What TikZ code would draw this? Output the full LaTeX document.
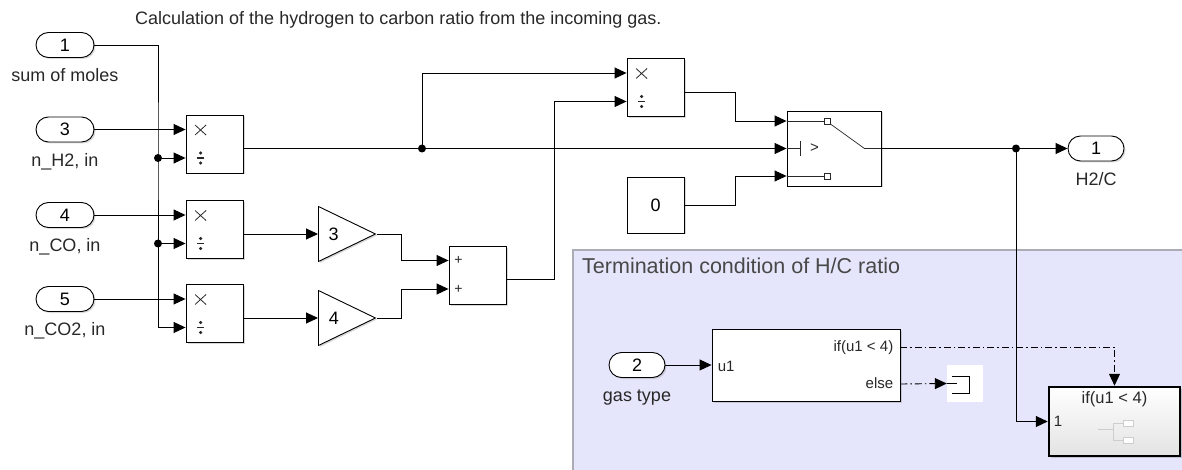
\documentclass[tikz,border=0pt]{standalone}
\usepackage{fontspec}
\setmainfont{Liberation Sans}
\usetikzlibrary{positioning, arrows.meta, calc, shapes.geometric, shadows}
\definecolor{areafill}{RGB}{229,229,251}
\definecolor{areaedge}{RGB}{172,172,182}
\definecolor{txtgray}{RGB}{40,40,40}
\definecolor{icongray}{RGB}{205,205,208}

\begin{document}
\begin{tikzpicture}[x=1pt, y=-1pt,
  blk/.style={draw, line width=0.9pt, fill=white, inner sep=0pt,
    minimum width=57pt, minimum height=58pt,
    drop shadow={shadow xshift=1.5pt, shadow yshift=-1.5pt, opacity=0.3}},
  port/.style={blk, rounded corners=12.5pt, minimum width=58pt, minimum height=25pt,
    font=\fontsize{18}{20}\selectfont},
  plabel/.style={inner sep=0pt, text height=13pt, text depth=4pt, text=txtgray,
    font=\fontsize{18}{20}\selectfont},
  gain/.style={draw, line width=0.9pt, fill=white, isosceles triangle,
    isosceles triangle stretches, minimum width=55pt, minimum height=57pt,
    inner sep=0pt, anchor=west, font=\fontsize{18}{20}\selectfont,
    drop shadow={shadow xshift=1.5pt, shadow yshift=-1.5pt, opacity=0.3}},
  wire/.style={-{Triangle[length=12pt, width=11pt]}, line width=0.9pt},
  conn/.style={line width=0.9pt},
  ctrl/.style={wire, dash pattern=on 7pt off 3pt on 1.5pt off 3pt},
  jdot/.style={circle, fill, inner sep=0pt, minimum size=8pt},
  sym/.style={text=txtgray, inner sep=0pt},
  swline/.style={line width=0.7pt, txtgray},
  swsq/.style={draw=txtgray, line width=0.7pt, fill=white, inner sep=0pt, minimum size=6pt}
]
  \useasboundingbox (0,0) rectangle (1182,470);

  \fill[areafill] (573,250) rectangle (1186,474);
  \draw[areaedge, line width=1.2pt] (1186,250) -- (573,250) -- (573,474);
  \node[anchor=base west, inner sep=0pt, text=txtgray!85, font=\fontsize{21.5}{24}\selectfont]
    (areatitle) at (582,273) {Termination condition of H/C ratio};

  \node[anchor=base west, inner sep=0pt, text=txtgray, font=\fontsize{18}{20}\selectfont]
    (title) at (135,25) {Calculation of the hydrogen to carbon ratio from the incoming gas.};

  \node[port] (in1) at (65,45) {1};
  \node[port] (in3) at (65,129.5) {3};
  \node[port] (in4) at (65,215) {4};
  \node[port] (in5) at (65,299) {5};
  \node[plabel, below=10.5pt of in1] (in1l) {sum of moles};
  \node[plabel, below=10.5pt of in3] (in3l) {n\_H2, in};
  \node[plabel, below=10.5pt of in4] (in4l) {n\_CO, in};
  \node[plabel, below=10.5pt of in5] (in5l) {n\_CO2, in};

  \node[blk] (P1) at (214.5,144) {};
  \node[blk] (P2) at (214.5,229.5) {};
  \node[blk] (P3) at (214.5,313.5) {};
  \node[blk] (P4) at (655.5,87.5) {};
  \node[blk] (S) at (477.5,275) {};
  \foreach \p in {P1,P2,P3,P4,S} {
    \coordinate (\p-a) at ([yshift=14.5pt]\p.west);
    \coordinate (\p-b) at ([yshift=-14pt]\p.west);
    \coordinate (\p-o) at ([yshift=-4.5pt]\p.east);
  }
  \foreach \p in {P1,P2,P3,P4} {
    \draw[swline, line width=0.8pt] ($(\p-a)+(9.5,-4.5)$) -- ($(\p-a)+(20.5,5.5)$)
      ($(\p-a)+(9.5,5.5)$) -- ($(\p-a)+(20.5,-4.5)$);
    \draw[swline, line width=1.1pt] ($(\p-b)+(11.5,0)$) -- ($(\p-b)+(18.5,0)$);
    \fill[txtgray] ($(\p-b)+(15,-5)$) circle (1.7pt) ($(\p-b)+(15,5)$) circle (1.7pt);
  }
  \node[sym, font=\fontsize{14}{14}\selectfont] (S-x) at ([xshift=10pt]S-a) {+};
  \node[sym, font=\fontsize{14}{14}\selectfont] (S-y) at ([xshift=10pt]S-b) {+};

  \node[gain] (G3) at (318,234) {3};
  \node[gain] (G4) at (318,318) {4};

  \node[blk, font=\fontsize{18}{20}\selectfont, minimum height=56pt] (C0) at (655.5,205) {0};

  \node[blk, minimum width=94pt, minimum height=75pt] (SW) at (834,148.5) {};
  \coordinate (SW-a) at ([yshift=27.5pt]SW.west);
  \coordinate (SW-c) at ([yshift=-27.5pt]SW.west);
  \draw[swline] (SW-a) -- ++(38,0);
  \draw[swline] (SW-c) -- ++(38,0);
  \node[swsq] (SWq1) at ($(SW-a)+(41,0)$) {};
  \node[swsq] (SWq2) at ($(SW-c)+(41,0)$) {};
  \draw[swline] (SW.west) -- ++(14,0) coordinate (SWbar);
  \draw[swline] ($(SWbar)+(0,-7.5)$) -- ($(SWbar)+(0,7.5)$);
  \node[sym, font=\fontsize{15}{15}\selectfont] (SWgt) at ($(SW.west)+(28,0)$) {>};
  \draw[swline] (SWq1.south east) -- ($(SW.east)+(-17,0)$) -- (SW.east);

  \node[port, minimum width=56pt] (out1) at (1096,148.5) {1};
  \node[plabel, below=10.5pt of out1] (out1l) {H2/C};

  \node[port, minimum width=56pt] (in2) at (637,365) {2};
  \node[plabel, below=10pt of in2] (in2l) {gas type};

  \node[blk, minimum width=188pt, minimum height=72pt] (IF) at (806,365) {};
  \coordinate (IF-if) at ([yshift=18pt]IF.east);
  \coordinate (IF-else) at ([yshift=-19pt]IF.east);
  \node[sym, anchor=west, text height=11pt, text depth=3pt, font=\fontsize{15}{17}\selectfont]
    (IFu) at ([xshift=6pt, yshift=-2pt]IF.west) {u1};
  \node[sym, anchor=east, text height=11pt, text depth=3pt, font=\fontsize{15}{17}\selectfont]
    (IFa) at ([xshift=-7pt]IF-if) {if(u1 < 4)};
  \node[sym, anchor=east, text height=11pt, text depth=3pt, font=\fontsize{15}{17}\selectfont]
    (IFb) at ([xshift=-7pt]IF-else) {else};

  \node[fill=white, inner sep=0pt, minimum width=36pt, minimum height=37pt] (T) at (965,383.5) {};
  \draw[line width=0.9pt] ([xshift=5pt, yshift=7.5pt]T.west) -- ++(18,0) -- ++(0,17) -- ++(-18,0);
  \draw[line width=0.9pt] (T.west) -- ++(10,0);

  \node[draw, line width=2.5pt, top color=white, bottom color=gray!22, inner sep=0pt,
    minimum width=131pt, minimum height=69pt,
    drop shadow={shadow xshift=1.5pt, shadow yshift=-1.5pt, opacity=0.35}] (SUB) at (1114.5,421.5) {};
  \node[sym, font=\fontsize{16.5}{18}\selectfont] (SUBt) at ([yshift=-13pt]SUB.north) {if(u1 < 4)};
  \node[sym, anchor=west, font=\fontsize{15}{17}\selectfont] (SUB1) at ([xshift=6pt]SUB.west) {1};
  \draw[icongray, line width=0.8pt] ($(SUB.center)+(-16.5,7.5)$) -- ($(SUB.center)+(-1.5,7.5)$);
  \draw[icongray, line width=0.8pt] ($(SUB.center)+(8.5,1.5)$) -| ($(SUB.center)+(-1.5,18.5)$) -- ($(SUB.center)+(8.5,18.5)$);
  \node[draw=icongray, fill=white, inner sep=0pt, minimum width=10pt, minimum height=6pt] (SUBq1) at ($(SUB.center)+(13.5,1.5)$) {};
  \node[draw=icongray, fill=white, inner sep=0pt, minimum width=10pt, minimum height=6pt] (SUBq2) at ($(SUB.center)+(13.5,18.5)$) {};

  \node[jdot] (Ja) at (158,158) {};
  \node[jdot] (Jb) at (158,243.5) {};
  \node[jdot] (J1) at (422,148.5) {};
  \node[jdot] (J2) at (1016,148.5) {};

  \draw[conn] (in1.east) -| (Ja.center) -- (Jb.center);
  \draw[wire] (Jb.center) |- (P3-b);
  \draw[wire] (Ja.center) -- (P1-b);
  \draw[wire] (Jb.center) -- (P2-b);
  \draw[wire] (in3.east) -- (P1-a);
  \draw[wire] (in4.east) -- (P2-a);
  \draw[wire] (in5.east) -- (P3-a);

  \draw[wire] (P2-o) -- (G3.west);
  \draw[wire] (P3-o) -- (G4.west);
  \draw[wire] (G3.east) -| ([xshift=-47pt]S-a) -- (S-a);
  \draw[wire] (G4.east) -| ([xshift=-47pt]S-b) -- (S-b);
  \draw[wire] (S-o) -| ([xshift=-72pt]P4-b) -- (P4-b);

  \draw[wire] (P1-o) -- (SW.west);
  \draw[wire] (J1.center) |- (P4-a);
  \draw[wire] (P4-o) -| ([xshift=-51pt]SW-a) -- (SW-a);
  \draw[wire] (C0.east) -| ([xshift=-51pt]SW-c) -- (SW-c);
  \draw[wire] (SW.east) -- (out1.west);
  \draw[wire] (J2.center) |- (SUB.west);

  \draw[wire] (in2.east) -- (IF.west);
  \draw[ctrl] (IF-if) -| (SUB.north);
  \draw[ctrl] (IF-else) -- (T.west);
\end{tikzpicture}
\end{document}
